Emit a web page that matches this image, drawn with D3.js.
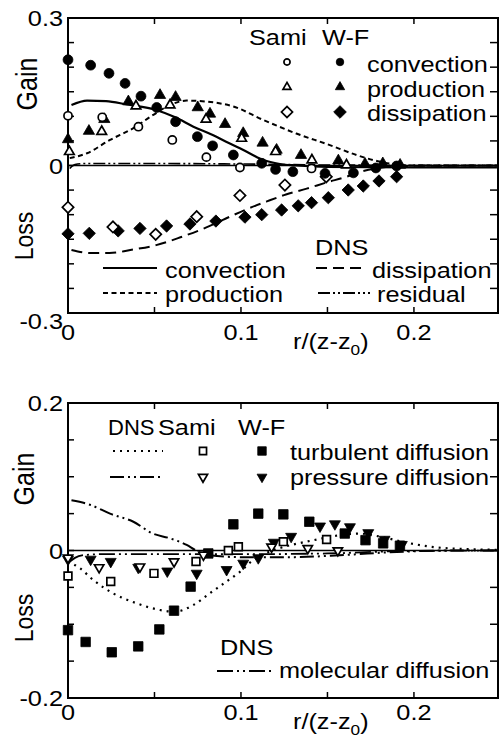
<!DOCTYPE html>
<html><head><meta charset="utf-8">
<script src="https://cdn.jsdelivr.net/npm/d3@7"></script>
<style>
body{margin:0;background:#fff}
svg{display:block}
text{font-family:"Liberation Sans",Arial,Helvetica,sans-serif;fill:#000}
</style>
</head><body>
<svg id="chart" width="500" height="737"></svg>
<script>
// ---------------- DATA ----------------
const xTickLabels = [0, 0.1, 0.2];
const xMinorTicks = [0, 0.05, 0.1, 0.15, 0.2];
const topYTickLabels = [-0.3, 0, 0.3];
const topYMinorTicks = [-0.25, -0.2, -0.15, -0.1, -0.05, 0, 0.05, 0.1, 0.15, 0.2, 0.25];
const botYTickLabels = [-0.2, 0, 0.2];
const botYMinorTicks = [-0.15, -0.1, -0.05, 0, 0.05, 0.1, 0.15];

// Top panel: DNS curves [r/(z-z0), value]
const dnsConvection = [[0.002,0.123],[0.011,0.132],[0.022,0.131],[0.034,0.124],[0.051,0.113],[0.062,0.098],[0.0725,0.079],[0.083,0.063],[0.0917,0.048],[0.0994,0.035],[0.106,0.023],[0.113,0.011],[0.1225,0.003],[0.132,0],[0.15,-0.003],[0.2,-0.004],[0.248,-0.004]];
const dnsProduction = [[0.001,0.015],[0.011,0.025],[0.0243,0.052],[0.0378,0.076],[0.0493,0.103],[0.059,0.123],[0.0686,0.132],[0.08,0.13],[0.0956,0.12],[0.113,0.0925],[0.132,0.065],[0.151,0.042],[0.167,0.021],[0.18,0.008],[0.198,0],[0.248,0]];
const dnsDissipation = [[0.002,-0.172],[0.0127,-0.178],[0.024,-0.178],[0.0376,-0.171],[0.051,-0.162],[0.065,-0.146],[0.08,-0.126],[0.0936,-0.104],[0.104,-0.088],[0.115,-0.073],[0.126,-0.059],[0.138,-0.047],[0.15,-0.034],[0.16,-0.024],[0.17,-0.012],[0.18,-0.005],[0.192,-0.001],[0.248,0]];
const dnsResidual = [[0.001,-0.006],[0.004,0.002],[0.01,0.004],[0.05,0.004],[0.1,0.003],[0.15,0.001],[0.248,0]];

// Top panel: model points
const samiConvection = [[0,0.101],[0.0198,0.098],[0.0407,0.079],[0.0603,0.052],[0.08,0.017],[0.0994,-0.004],[0.1408,-0.006]];
const wfConvection = [[0,0.215],[0.0131,0.204],[0.0237,0.1875],[0.033,0.167],[0.0422,0.141],[0.0513,0.118],[0.0622,0.089],[0.0748,0.0586],[0.0836,0.04],[0.0956,0.0214],[0.112,0.0045],[0.12,-0.008],[0.13,-0.0126],[0.1486,-0.016],[0.165,-0.015],[0.178,-0.005],[0.19,-0.001]];
const samiProduction = [[0.0008,0.028],[0.0195,0.069],[0.0393,0.121],[0.059,0.123],[0.0798,0.094],[0.1004,0.055],[0.12,0.028],[0.141,0.011],[0.161,0.001]];
const wfProduction = [[0,0.053],[0.0121,0.07],[0.021,0.094],[0.0349,0.13],[0.0532,0.143],[0.0622,0.139],[0.075,0.118],[0.0821,0.105],[0.0908,0.084],[0.1013,0.0655],[0.1125,0.046],[0.1206,0.0315],[0.1347,0.021],[0.1563,0.0098],[0.1717,0.003],[0.182,0.004],[0.192,0.001]];
const samiDissipation = [[0,-0.085],[0.026,-0.125],[0.0507,-0.14],[0.0744,-0.104],[0.0994,-0.061],[0.1254,-0.0397],[0.1493,-0.023]];
const wfDissipation = [[0,-0.139],[0.0123,-0.138],[0.029,-0.133],[0.0416,-0.128],[0.057,-0.123],[0.0705,-0.119],[0.0855,-0.113],[0.1023,-0.105],[0.112,-0.1],[0.1235,-0.0905],[0.1331,-0.082],[0.1408,-0.0756],[0.1505,-0.0655],[0.162,-0.0498],[0.1707,-0.0417],[0.1798,-0.0315],[0.19,-0.0228]];

// Bottom panel: DNS curves
const dnsTurbulent = [[0,-0.015],[0.0069,-0.024],[0.0146,-0.04],[0.026,-0.058],[0.0397,-0.0716],[0.0532,-0.0807],[0.0618,-0.083],[0.0724,-0.074],[0.082,-0.058],[0.0917,-0.042],[0.0994,-0.029],[0.107,-0.013],[0.115,-0.003],[0.122,0.003],[0.13,0.008],[0.14,0.013],[0.155,0.02],[0.168,0.023],[0.18,0.019],[0.195,0.011],[0.21,0.005],[0.23,0.002],[0.248,0.001]];
const dnsPressure = [[0.002,0.068],[0.0127,0.062],[0.0243,0.05],[0.0378,0.039],[0.049,0.023],[0.059,0.0165],[0.0686,0.0075],[0.074,0],[0.08,-0.006],[0.1,-0.009],[0.13,-0.009],[0.16,-0.006],[0.19,-0.002],[0.22,0],[0.248,0]];
const dnsMolecular = [[0.0005,-0.016],[0.004,-0.01],[0.01,-0.006],[0.02,-0.005],[0.05,-0.005],[0.1,-0.005],[0.15,-0.004],[0.19,-0.001],[0.248,0]];

// Bottom panel: model points
const samiTurbulent = [[0,-0.0346],[0.0247,-0.042],[0.0497,-0.031],[0.074,-0.015],[0.0927,0],[0.0985,0.005],[0.1245,0.012],[0.1495,0.015]];
const wfTurbulent = [[0,-0.108],[0.0102,-0.124],[0.0253,-0.138],[0.0406,-0.13],[0.0528,-0.107],[0.0613,-0.0816],[0.0709,-0.049],[0.0811,-0.004],[0.0956,0.0355],[0.11,0.05],[0.1245,0.049],[0.1395,0.039],[0.16,0.023],[0.172,0.014],[0.1822,0.0097],[0.1919,0.0065]];
const samiPressure = [[0,-0.01],[0.018,-0.023],[0.0416,-0.022],[0.0613,-0.015],[0.0783,-0.006],[0.1177,0.005],[0.1386,0.003],[0.156,0]];
const wfPressure = [[0,-0.012],[0.0131,-0.012],[0.0247,-0.015],[0.0406,-0.023],[0.0574,-0.028],[0.0744,-0.031],[0.0917,-0.026],[0.1013,-0.0174],[0.11,-0.01],[0.119,0.011],[0.129,0.019],[0.1457,0.033],[0.1543,0.036],[0.163,0.032],[0.1736,0.024],[0.183,0.015],[0.193,0.008]];

// ---------------- DRAWING ----------------
const SX = 1.15; // horizontal stretch of the lettering
const svg = d3.select("#chart");
const x = d3.scaleLinear().domain([0, 0.2486]).range([68, 498]);

const DASH = {
  solid: null,
  shortDash: "5,3.5",
  longDash: "11,6",
  dashDotDot: "12,3,2,3,2,3",
  dotted: "2,5",
  pressure: "14,4,2,4,2,4",
  molecular: "16,4,2,4,2,4"
};

function txt(g, px, py, s, size, anchor, sx) {
  return g.append("text")
    .attr("transform", `translate(${px},${py}) scale(${sx || SX},1)`)
    .attr("text-anchor", anchor || "start")
    .style("font-size", size + "px")
    .text(s);
}
function vtxt(g, px, py, s, size) {
  return g.append("text")
    .attr("transform", `translate(${px},${py}) scale(${SX},1) rotate(-90)`)
    .attr("text-anchor", "middle")
    .style("font-size", size + "px")
    .text(s);
}
function xLabel(g, px, py) {
  const t = g.append("text")
    .attr("transform", `translate(${px},${py}) scale(${SX},1)`)
    .style("font-size", "22px");
  t.append("tspan").text("r/(z-z");
  t.append("tspan").attr("dy", 6).style("font-size", "15px").text("0");
  t.append("tspan").attr("dy", -6).text(")");
}

const sym = {
  circle: d3.symbol().type(d3.symbolCircle),
  tri: d3.symbol().type(d3.symbolTriangle),
  square: d3.symbol().type(d3.symbolSquare)
};
function marker(g, px, py, kind, filled, size) {
  let path, rot = 0;
  if (kind === "circle") path = sym.circle.size(size)();
  else if (kind === "tri") path = sym.tri.size(size)();
  else if (kind === "dtri") { path = sym.tri.size(size)(); rot = 180; }
  else if (kind === "diamond") { path = sym.square.size(size)(); rot = 45; }
  else path = sym.square.size(size)();
  g.append("path")
    .attr("d", path)
    .attr("transform", `translate(${px},${py}) rotate(${rot})`)
    .attr("fill", filled ? "#000" : "#fff")
    .attr("stroke", "#000")
    .attr("stroke-width", filled ? 0.8 : 1.7);
}
function points(g, y, data, kind, filled, size) {
  data.forEach(d => marker(g, x(d[0]), y(d[1]), kind, filled, size));
}
function curve(g, y, data, dash, w) {
  const line = d3.line().x(d => x(d[0])).y(d => y(d[1])).curve(d3.curveMonotoneX);
  g.append("path").datum(data).attr("d", line)
    .attr("fill", "none").attr("stroke", "#000")
    .attr("stroke-width", w || 2)
    .attr("stroke-dasharray", dash);
}
function legLine(g, x1, x2, py, dash, w) {
  g.append("line").attr("x1", x1).attr("x2", x2).attr("y1", py).attr("y2", py)
    .attr("stroke", "#000").attr("stroke-width", w || 2).attr("stroke-dasharray", dash);
}

function frame(g, y, minorY, labelsY, xLabelBase, lastLabelDy) {
  const [y0, y1] = y.range(); // bottom, top
  const [xa, xb] = x.range();
  const tk = g.append("g").attr("stroke", "#000").attr("stroke-width", 1.5);
  xMinorTicks.forEach(v => {
    tk.append("line").attr("x1", x(v)).attr("x2", x(v)).attr("y1", y0).attr("y2", y0 - 6);
    tk.append("line").attr("x1", x(v)).attr("x2", x(v)).attr("y1", y1).attr("y2", y1 + 6);
  });
  minorY.forEach(v => {
    tk.append("line").attr("x1", xa).attr("x2", xa + 6).attr("y1", y(v)).attr("y2", y(v));
    tk.append("line").attr("x1", xb).attr("x2", xb - 8).attr("y1", y(v)).attr("y2", y(v));
  });
  g.append("line").attr("x1", xa).attr("x2", xb).attr("y1", y(0)).attr("y2", y(0))
    .attr("stroke", "#000").attr("stroke-width", 1.6);
  g.append("rect").attr("x", xa).attr("y", y1).attr("width", xb - xa).attr("height", y0 - y1)
    .attr("fill", "none").attr("stroke", "#000").attr("stroke-width", 2);
  const lo = d3.min(labelsY);
  labelsY.forEach(v => {
    txt(g, 63, y(v) + 8 + (v === lo ? lastLabelDy : 0), String(v), 22, "end");
  });
  xTickLabels.forEach(v => {
    txt(g, x(v), xLabelBase, String(v), 22, "middle");
  });
}

// ===== TOP PANEL =====
const yT = d3.scaleLinear().domain([-0.3, 0.3]).range([313, 18]);
const gT = svg.append("g");
frame(gT, yT, topYMinorTicks, topYTickLabels, 340, 8);
vtxt(gT, 37, 84, "Gain", 25);
vtxt(gT, 33, 236, "Loss", 23);
xLabel(gT, 293, 349);

curve(gT, yT, dnsResidual, DASH.dashDotDot, 1.6);
curve(gT, yT, dnsConvection, DASH.solid, 2.2);
curve(gT, yT, dnsProduction, DASH.shortDash, 2);
curve(gT, yT, dnsDissipation, DASH.longDash, 2);

points(gT, yT, wfDissipation, "diamond", true, 76);
points(gT, yT, samiDissipation, "diamond", false, 64);
points(gT, yT, wfProduction, "tri", true, 55);
points(gT, yT, samiProduction, "tri", false, 40);
points(gT, yT, wfConvection, "circle", true, 76);
points(gT, yT, samiConvection, "circle", false, 52);

txt(gT, 249, 45, "Sami", 22);
txt(gT, 322, 45, "W-F", 22);
marker(gT, 287, 62, "circle", false, 30); marker(gT, 340, 62, "circle", true, 45);
marker(gT, 287, 87, "tri", false, 28); marker(gT, 340, 87, "tri", true, 38);
marker(gT, 287, 112, "diamond", false, 62); marker(gT, 340, 112, "diamond", true, 80);
txt(gT, 367, 72, "convection", 22);
txt(gT, 367, 97, "production", 22);
txt(gT, 367, 121, "dissipation", 22);
txt(gT, 315, 255, "DNS", 22);
legLine(gT, 103, 157, 268, DASH.solid, 2.2);
txt(gT, 165, 278, "convection", 22);
legLine(gT, 316, 366, 268, DASH.longDash, 2);
txt(gT, 372, 278, "dissipation", 22);
legLine(gT, 103, 157, 293, DASH.shortDash, 2);
txt(gT, 165, 302, "production", 22);
legLine(gT, 318, 370, 293, DASH.dashDotDot, 2);
txt(gT, 377, 302, "residual", 22);

// ===== BOTTOM PANEL =====
const yB = d3.scaleLinear().domain([-0.2, 0.2]).range([698, 403]);
const gB = svg.append("g");
frame(gB, yB, botYMinorTicks, botYTickLabels, 720, 0);
vtxt(gB, 34, 479, "Gain", 25);
vtxt(gB, 33, 618, "Loss", 23);
xLabel(gB, 293, 729);

curve(gB, yB, dnsMolecular, DASH.molecular, 1.8);
curve(gB, yB, dnsPressure, DASH.pressure, 2);
curve(gB, yB, dnsTurbulent, DASH.dotted, 2.2);

points(gB, yB, wfTurbulent, "square", true, 90);
points(gB, yB, samiTurbulent, "square", false, 60);
points(gB, yB, wfPressure, "dtri", true, 52);
points(gB, yB, samiPressure, "dtri", false, 38);

txt(gB, 108, 435, "DNS", 22, "start", 1.0);
txt(gB, 158, 435, "Sami", 22);
txt(gB, 238, 435, "W-F", 22);
legLine(gB, 113, 163, 451, DASH.dotted, 2);
marker(gB, 203, 451, "square", false, 50); marker(gB, 262, 451, "square", true, 72);
txt(gB, 290, 460, "turbulent diffusion", 22);
legLine(gB, 110, 163, 477, DASH.pressure, 2);
marker(gB, 203, 477, "dtri", false, 36); marker(gB, 262, 477, "dtri", true, 42);
txt(gB, 290, 485, "pressure diffusion", 22);
txt(gB, 220, 655, "DNS", 22);
legLine(gB, 217, 271, 671, DASH.molecular, 2);
txt(gB, 279, 678, "molecular diffusion", 22);
</script>
</body></html>
